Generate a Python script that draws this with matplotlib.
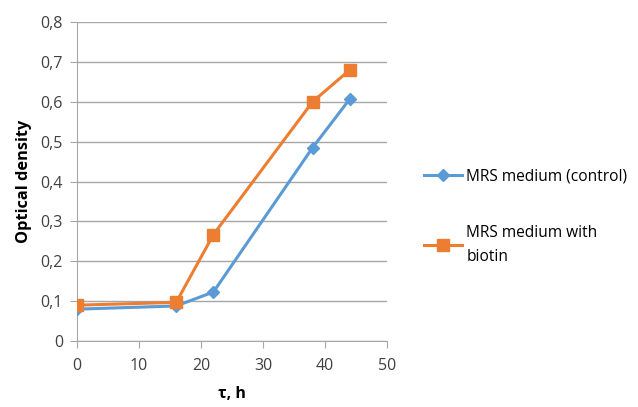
import matplotlib.pyplot as plt
from matplotlib.ticker import FuncFormatter

hours = [0, 16, 22, 38, 44]
od_control = [0.080, 0.088, 0.123, 0.485, 0.607]
od_biotin = [0.090, 0.097, 0.267, 0.600, 0.680]
labels = ["MRS medium (control)", "MRS medium with\nbiotin"]

plt.rcParams['font.family'] = ['Open Sans', 'DejaVu Sans']

fig = plt.figure(figsize=(6.38, 4.07), dpi=100)
ax = fig.add_axes([0.1207, 0.162, 0.4859, 0.784])

blue = '#5B9BD5'
orange = '#ED7D31'
grid_c = '#A6A6A6'

ax.plot(hours, od_control, color=blue, lw=2.2, marker='D', ms=6, label=labels[0], zorder=3)
ax.plot(hours, od_biotin, color=orange, lw=2.2, marker='s', ms=8, label=labels[1], zorder=4)

ax.set_xlim(0, 50)
ax.set_ylim(0, 0.8)
ax.set_xticks(range(0, 51, 10))
ax.set_yticks([i / 10 for i in range(9)])
ax.yaxis.set_major_formatter(FuncFormatter(lambda v, p: ('%g' % round(v, 1)).replace('.', ',')))
ax.yaxis.grid(True, color=grid_c, lw=1)
ax.set_axisbelow(True)
for s in ['top', 'right']:
    ax.spines[s].set_visible(False)
for s in ['left', 'bottom']:
    ax.spines[s].set_color(grid_c)
ax.tick_params(axis='both', colors=grid_c, labelcolor='#404040', labelsize=11.5, length=5, direction='out')
ax.tick_params(axis='x', pad=7)
ax.tick_params(axis='y', pad=5)

ax.set_xlabel('τ, h', fontweight='bold', fontsize=11.5, labelpad=9)
ax.set_ylabel('Optical density', fontweight='bold', fontsize=11.8, labelpad=6)

leg = fig.legend(loc='center left', bbox_to_anchor=(0.643, 0.468), frameon=False, fontsize=11.2,
                 labelspacing=2.6, handlelength=2.4, handletextpad=0.3)
for t in leg.get_texts():
    t.set_linespacing(1.65)

plt.savefig('out.png', dpi=100)
